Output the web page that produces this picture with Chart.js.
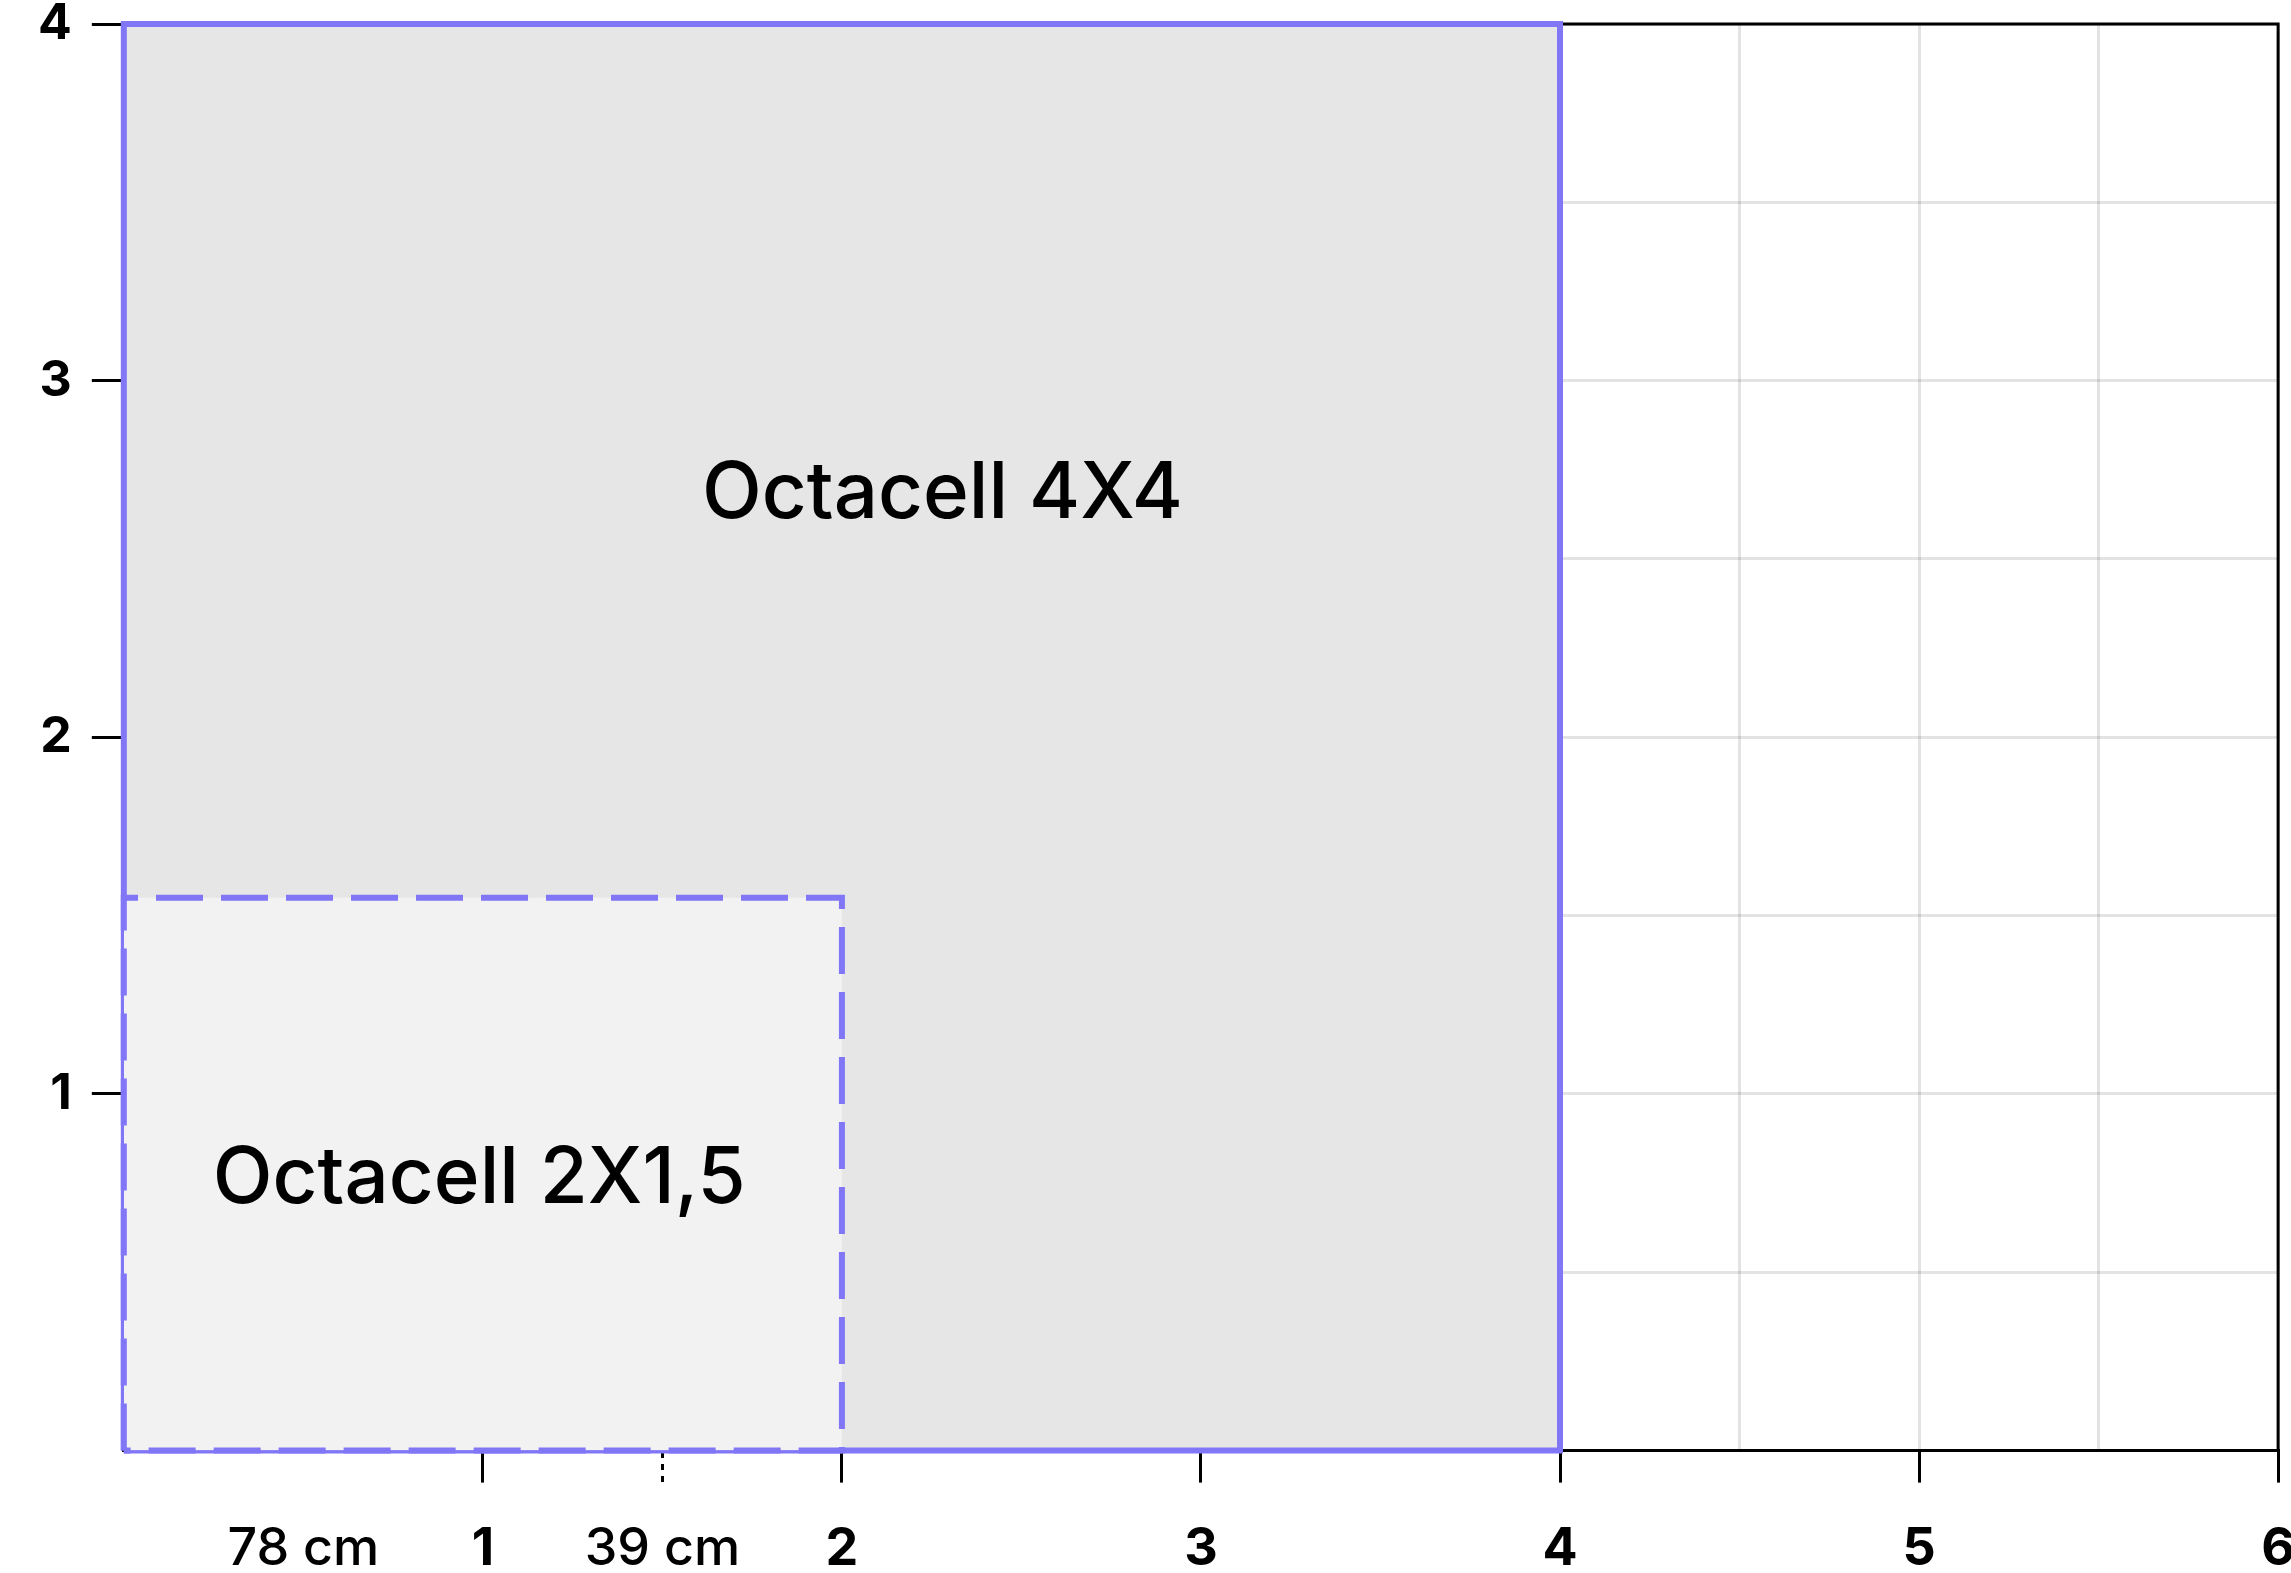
<!DOCTYPE html>
<html>
<head>
<meta charset="utf-8">
<script src="https://cdn.jsdelivr.net/npm/chart.js@4.4.0/dist/chart.umd.min.js"></script>
<style>
  html, body { margin: 0; padding: 0; background: #fff; overflow: hidden; }
  body { width: 2291px; height: 1573px; position: relative; }
  #wrap { position: absolute; left: 0; top: -26px; width: 2331px; height: 1601px; }
</style>
</head>
<body>
<div id="wrap"><canvas id="chart"></canvas></div>
<script>
// rectangles (metres)
const rectNames = ['Octacell 4X4', 'Octacell 2X1,5'];
const rectWidths = [4, 2];
const rectHeights = [4, 1.55];

// label anchors inside the rectangles
const labelX = [2.28, 0.99];
const labelY = [2.68, 0.76];

// axis ticks
const xTickValues = [0.5, 1, 1.5, 2, 3, 4, 5, 6];
const xTickLabels = ['78 cm', '1', '39 cm', '2', '3', '4', '5', '6'];
const yTickValues = [1, 2, 3, 4];
const yTickLabels = ['1', '2', '3', '4'];
const gridStep = 0.5;

const purple = 'rgb(128, 118, 246)';
const fills = ['#e6e6e6', '#f2f2f2'];
const FONT = 'Inter, "Noto Sans", sans-serif';

function outline(w, h) {
  return [{x: 0, y: 0}, {x: 0, y: h}, {x: w, y: h}, {x: w, y: 0}, {x: 0, y: 0}];
}

function gridTicks(max) {
  const out = [];
  for (let v = gridStep; v <= max + 1e-9; v += gridStep) out.push({value: Math.round(v * 100) / 100});
  return out;
}

function labelFor(values, labels, v) {
  const i = values.findIndex(t => Math.abs(t - v) < 1e-6);
  return i < 0 ? '' : labels[i];
}

const frame = {
  id: 'frame',
  beforeDatasetsDraw(chart) {
    const {ctx, chartArea: a} = chart;
    ctx.save();
    ctx.strokeStyle = '#000';
    ctx.lineWidth = 3;
    ctx.beginPath();
    ctx.moveTo(a.left, a.top);
    ctx.lineTo(a.right, a.top);
    ctx.lineTo(a.right, a.bottom);
    ctx.stroke();
    ctx.restore();
  }
};

const boxLabels = {
  id: 'boxLabels',
  afterDatasetsDraw(chart) {
    const {ctx, scales} = chart;
    ctx.save();
    ctx.fillStyle = '#000';
    ctx.font = '500 78px ' + FONT;
    ctx.textAlign = 'center';
    ctx.textBaseline = 'middle';
    rectNames.forEach((name, i) => {
      ctx.fillText(name, scales.x.getPixelForValue(labelX[i]), scales.y.getPixelForValue(labelY[i]));
    });
    ctx.restore();
  }
};

const datasets = [];
rectNames.forEach((name, i) => {
  // filled area: top edge filled down to y = 0
  datasets.push({
    label: name + ' fill',
    data: [{x: 0, y: rectHeights[i]}, {x: rectWidths[i], y: rectHeights[i]}],
    showLine: true,
    fill: 'origin',
    backgroundColor: fills[i],
    borderWidth: 0,
    borderColor: 'rgba(0,0,0,0)',
    pointRadius: 0,
    order: 2 * (rectNames.length - i) + 1
  });
  // outline
  datasets.push({
    label: name,
    data: outline(rectWidths[i], rectHeights[i]),
    showLine: true,
    fill: false,
    borderColor: purple,
    borderWidth: 6,
    borderDash: i === 1 ? [47, 18] : [],
    borderJoinStyle: 'miter',
    pointRadius: 0,
    clip: false,
    order: 2 * (rectNames.length - i)
  });
});

new Chart(document.getElementById('chart'), {
  type: 'scatter',
  data: { datasets },
  plugins: [frame, boxLabels],
  options: {
    responsive: true,
    maintainAspectRatio: false,
    animation: false,
    layout: { padding: { left: 18, top: 0, right: 0, bottom: -42 } },
    plugins: { legend: { display: false }, tooltip: { enabled: false } },
    scales: {
      x: {
        type: 'linear',
        min: 0,
        max: 6,
        afterBuildTicks: scale => { scale.ticks = gridTicks(6); },
        ticks: {
          autoSkip: false,
          maxRotation: 0,
          padding: 36,
          color: '#000',
          callback: v => labelFor(xTickValues, xTickLabels, v),
          font: ctx => ({
            family: FONT,
            size: 52,
            weight: String(ctx.tick && ctx.tick.label).includes('cm') ? 500 : 700
          })
        },
        grid: {
          color: 'rgba(0,0,0,0.11)',
          lineWidth: 3,
          tickLength: 32,
          tickWidth: 3,
          tickColor: ctx => {
            const lab = labelFor(xTickValues, xTickLabels, ctx.tick.value);
            return lab && lab !== '78 cm' ? '#000' : 'rgba(0,0,0,0)';
          },
          tickBorderDash: ctx => (Math.abs(ctx.tick.value - 1.5) < 1e-6 ? [6, 6] : [])
        },
        border: { display: true, color: '#000', width: 3 }
      },
      y: {
        type: 'linear',
        min: 0,
        max: 4,
        afterBuildTicks: scale => { scale.ticks = gridTicks(4); },
        ticks: {
          autoSkip: false,
          padding: 20,
          color: '#000',
          callback: v => labelFor(yTickValues, yTickLabels, v),
          font: { family: FONT, size: 50, weight: 700 }
        },
        grid: {
          color: 'rgba(0,0,0,0.11)',
          lineWidth: 3,
          tickLength: 32,
          tickWidth: 3,
          tickColor: ctx => (labelFor(yTickValues, yTickLabels, ctx.tick.value) ? '#000' : 'rgba(0,0,0,0)')
        },
        border: { display: true, color: '#000', width: 3 }
      }
    }
  }
});
</script>
</body>
</html>
